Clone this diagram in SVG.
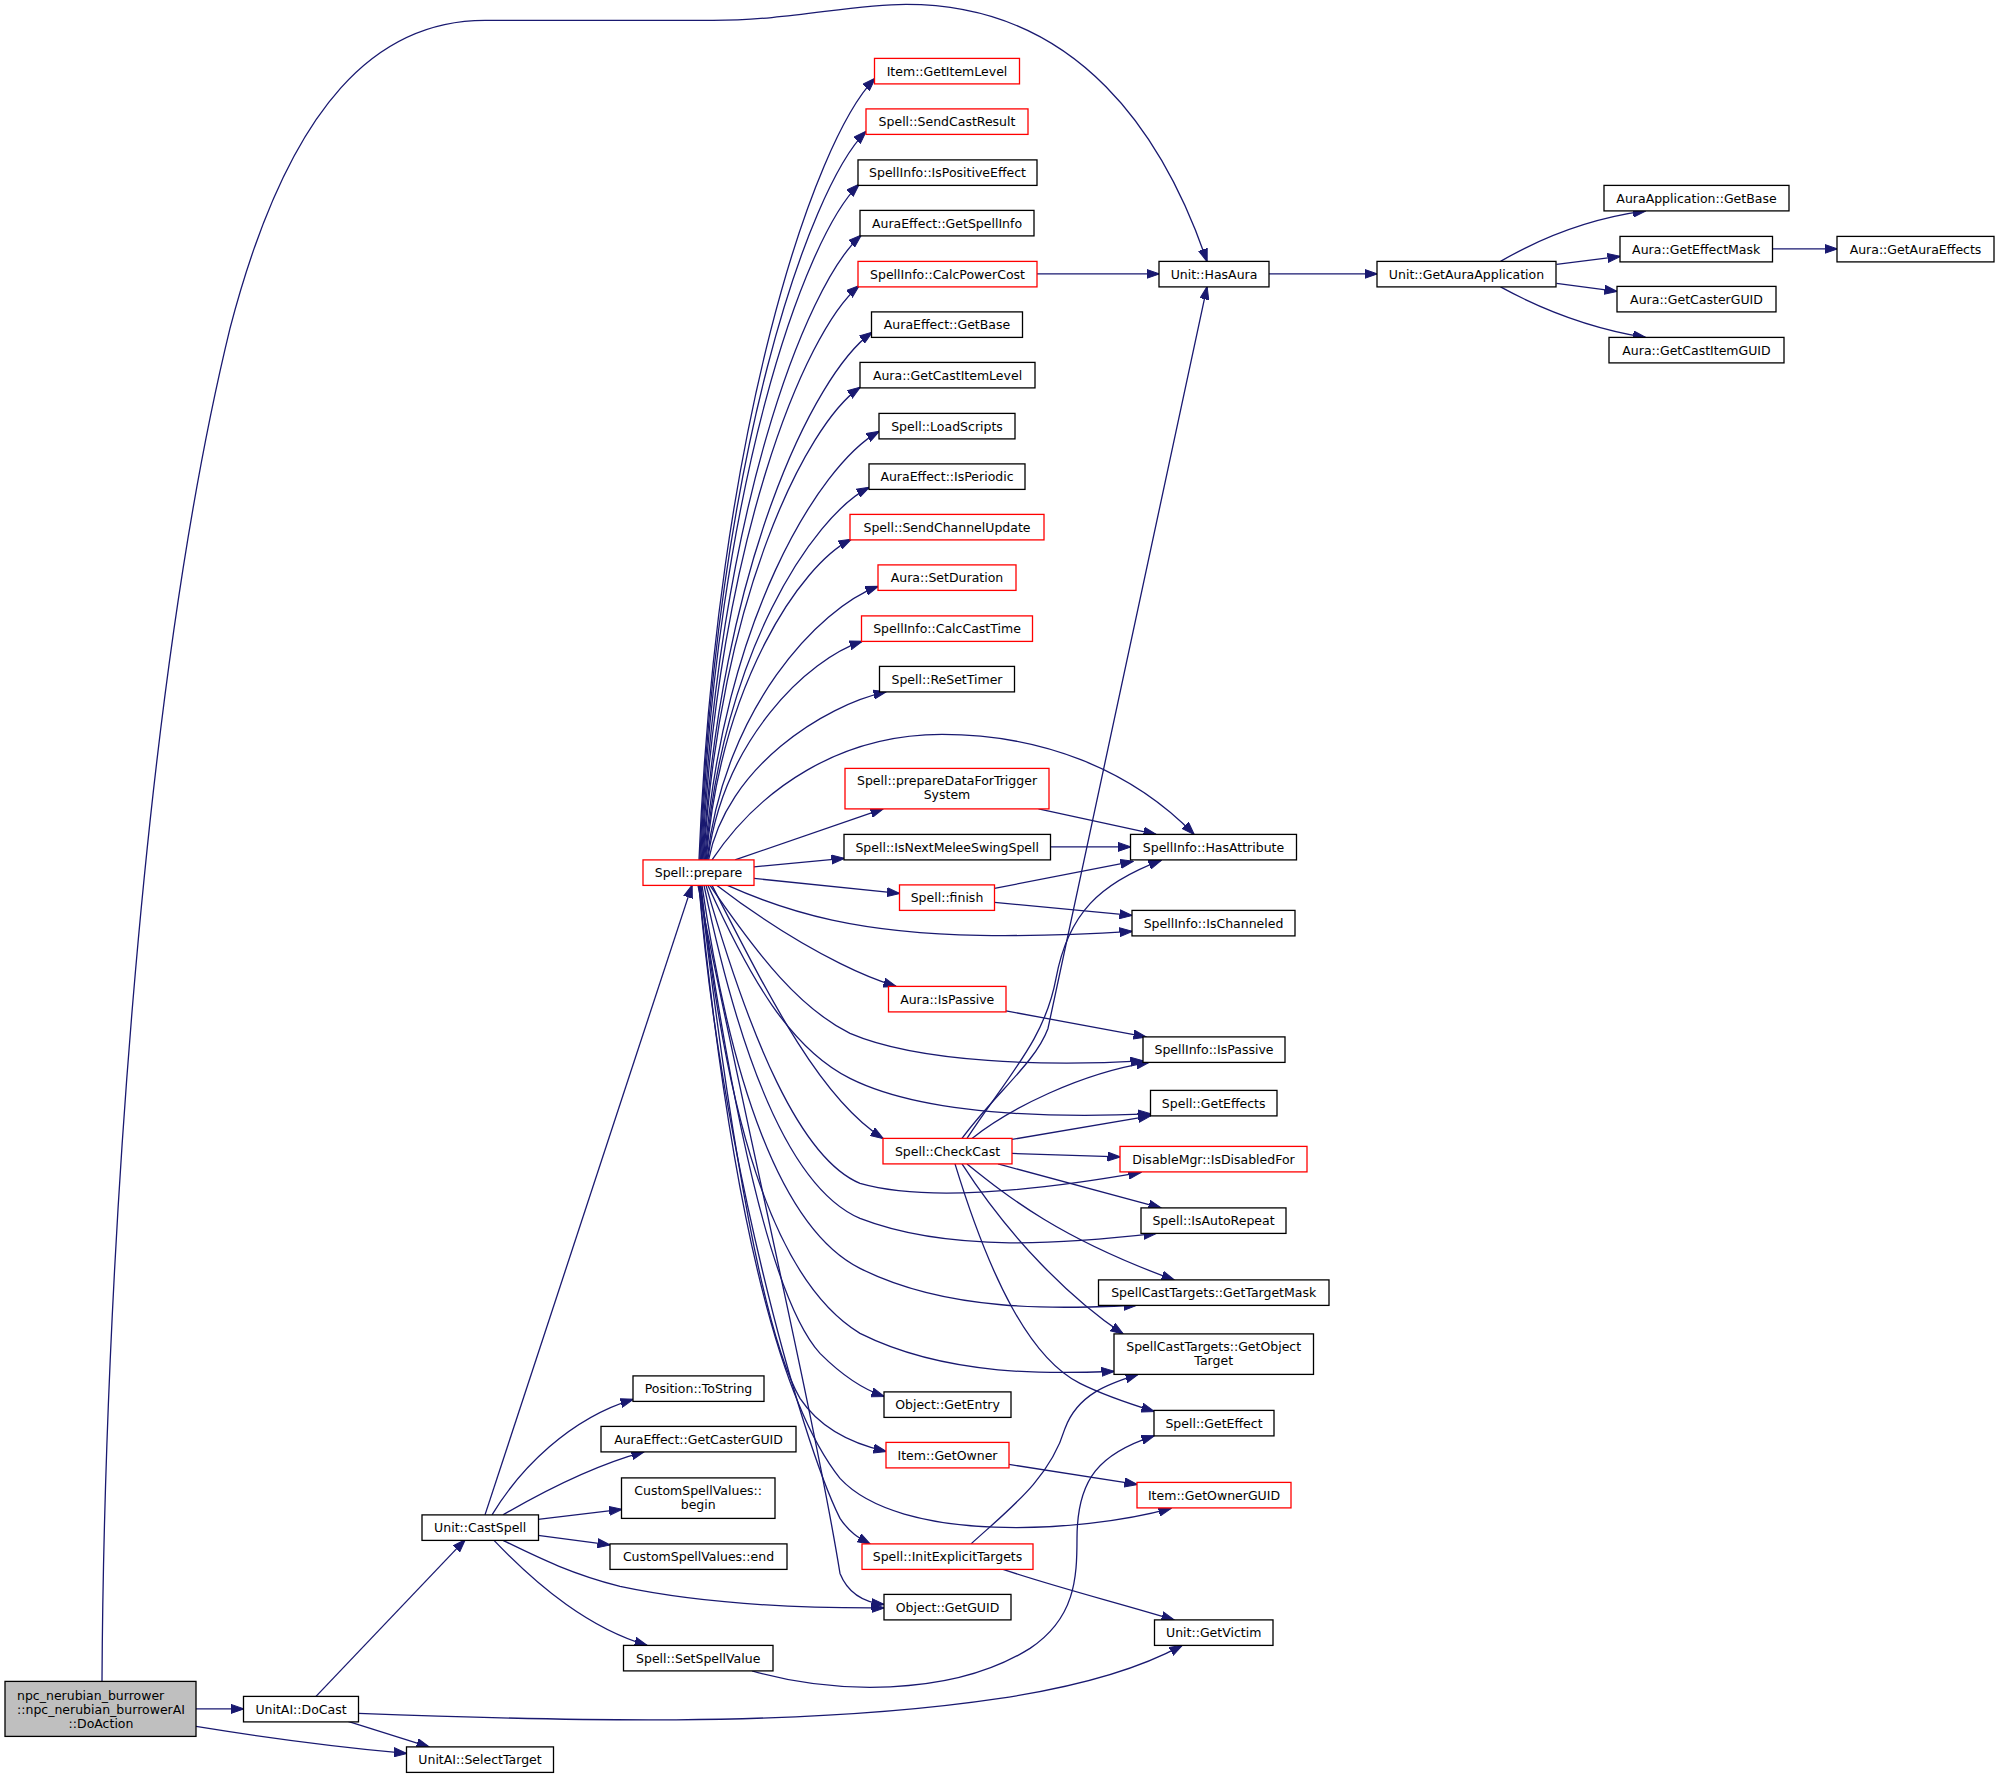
<svg xmlns="http://www.w3.org/2000/svg" width="1999" height="1780" viewBox="0 0 1999 1780">
<style>
.n rect{fill:#fff;stroke:#000;stroke-width:1.3}
.n.r rect{stroke:#f00}
.n.g rect{fill:#bfbfbf}
text{font-family:"DejaVu Sans","Liberation Sans",sans-serif;font-size:12.5px;text-anchor:middle;fill:#000}
.e path{fill:none;stroke:#191970;stroke-width:1.3;marker-end:url(#a)}
</style>
<defs>
<marker id="a" viewBox="0 0 13 10" refX="12.5" refY="5" markerWidth="13" markerHeight="10" markerUnits="userSpaceOnUse" orient="auto">
<path d="M0,0.5 L13,5 L0,9.5 Z" fill="#191970" stroke="#191970" stroke-width="1"/>
</marker>
</defs>
<rect width="1999" height="1780" fill="#fff"/>
<g transform="translate(0,-1.6)">
<g id="edges" class="e">
<path d="M102,1683 C104,1300 140,700 230,330 C290,100 380,22 485,22 L713,22 C790,22 850,6 906,6 C1080,6 1165,140 1207,263"/>
<path d="M196,1710.5 L243.5,1710.5"/>
<path d="M196,1728 C270,1740 340,1749 406.5,1755"/>
<path d="M348,1723 L429,1748.5"/>
<path d="M316,1698 L465,1541.5"/>
<path d="M358.5,1715 C550,1722 800,1730 1000,1700 C1080,1688 1140,1670 1182,1647"/>
<path d="M485,1516.5 L692,887"/>
<path d="M492,1516.5 C520,1470 570,1420 633,1401"/>
<path d="M503,1516.5 C540,1495 590,1468 644,1453.5"/>
<path d="M538,1521 L621.5,1511"/>
<path d="M538,1537 L610,1546.5"/>
<path d="M503,1542 C540,1560 570,1575 620,1588 C700,1605 800,1610 884,1609.5"/>
<path d="M494,1542 C540,1590 590,1630 647,1647"/>
<path d="M752,1672.5 C830,1695 950,1700 1030,1650 C1075,1620 1077,1580 1077,1540 C1077,1480 1100,1455 1154,1437.5"/>
<path d="M971,1545.5 C1010,1510 1050,1480 1065,1430 C1078,1395 1110,1385 1138,1376"/>
<path d="M1003,1571 C1060,1590 1120,1605 1174,1621.5"/>
<path d="M1009,1466 L1137,1486"/>
<path d="M962,1140 C995,1095 1035,1065 1048,1030 L1207,288.5"/>
<path d="M967,1140 C1010,1075 1045,1040 1056,980 C1068,915 1100,885 1161,862"/>
<path d="M972,1140 C1010,1110 1080,1075 1149,1064"/>
<path d="M1012,1141 L1150.5,1117.5"/>
<path d="M1012,1155 L1120,1158.5"/>
<path d="M998,1165.5 L1161,1209.5"/>
<path d="M967,1165.5 C1010,1200 1060,1240 1174,1281.5"/>
<path d="M962,1165.5 C1010,1240 1070,1300 1123,1335.5"/>
<path d="M955,1165.5 C990,1280 1030,1360 1080,1385 C1100,1395 1125,1404 1154,1413"/>
<path d="M1037,275.5 L1159,275.5"/>
<path d="M1269,275.5 L1377,275.5"/>
<path d="M1500.5,263 C1540,240 1590,220 1645.5,212.5"/>
<path d="M1556.5,266 L1620,258"/>
<path d="M1556.5,285 L1617,293"/>
<path d="M1500.5,288.5 C1540,310 1590,330 1645.5,339"/>
<path d="M1772.5,250.5 L1837,250.5"/>
<path d="M699,861.5 C716.6,431.7 813.4,142.5 875,80"/>
<path d="M699.8,861.5 C716.4,460.8 807.8,191.3 866,133"/>
<path d="M700.6,861.5 C716.4,490 803.6,240 859,186"/>
<path d="M701.4,861.5 C717.4,518 805.1,287 861,237"/>
<path d="M702.2,861.5 C717.9,545.8 804.1,333.4 859,287.5"/>
<path d="M703,861.5 C719.9,571.4 812.8,376.2 872,334"/>
<path d="M703.8,861.5 C719.4,601.6 805.3,426.8 860,389"/>
<path d="M704.6,861.5 C722,625.8 818,467.3 879,433"/>
<path d="M705.4,861.5 C721.8,656.6 811.7,518.8 869,489"/>
<path d="M706.2,861.5 C720.7,685.2 800.3,566.6 851,541"/>
<path d="M707,861.5 C724.1,711 818.1,609.9 878,588"/>
<path d="M707.8,861.5 C723.2,741.3 808,660.5 862,643"/>
<path d="M708.6,861.5 C726.3,769.1 823.9,706.9 886,693.5"/>
<path d="M712,861.5 C760,790 840,736 942,736 C1040,736 1130,770 1194,836"/>
<path d="M735,861.5 L883,810.5"/>
<path d="M754,868.5 L844,860"/>
<path d="M754,880 L899.5,895"/>
<path d="M994.5,890 L1133,863"/>
<path d="M1038.5,810.5 L1156,836"/>
<path d="M1050.5,848.5 L1130.5,848.5"/>
<path d="M994.5,904 L1132,917"/>
<path d="M727.5,887 C790,915 860,935 980,937 C1050,938 1100,935 1132,933"/>
<path d="M717,887 C760,920 800,945 840,965 C860,975 880,983 896,988"/>
<path d="M1006,1012.5 L1146,1038.5"/>
<path d="M710,887 C760,960 800,1010 850,1035 C920,1065 1050,1068 1143,1062.5"/>
<path d="M708,887 C750,980 790,1050 850,1080 C920,1115 1040,1120 1150.5,1115.5"/>
<path d="M712,887 C770,1000 820,1100 883,1140"/>
<path d="M706,887 C750,1040 800,1160 860,1185 C930,1205 1050,1190 1141,1174"/>
<path d="M704,887 C740,1060 790,1190 860,1220 C950,1255 1070,1245 1156,1235"/>
<path d="M702,887 C730,1080 780,1230 860,1270 C950,1315 1060,1310 1136,1307"/>
<path d="M701,887 C725,1110 770,1280 860,1335 C950,1380 1060,1375 1114,1373"/>
<path d="M700,887 C730,1100 770,1300 820,1355 C840,1375 860,1390 884,1398"/>
<path d="M700,887 C725,1100 760,1330 800,1400 C820,1430 850,1445 886,1453"/>
<path d="M699,887 C720,1100 760,1380 840,1480 C900,1545 1080,1535 1171,1510"/>
<path d="M699,887 C720,1150 800,1440 840,1520 C850,1535 860,1540 870,1545.5"/>
<path d="M698,887 C740,1100 815,1420 840,1575 C848,1595 865,1604 884,1606"/>
</g>
<g id="n_npc" class="n g"><rect x="5" y="1683" width="191" height="55"/><text x="17" y="1701.5" style="text-anchor:start">npc_nerubian_burrower</text><text x="101" y="1715.5">::npc_nerubian_burrowerAI</text><text x="101" y="1729.5">::DoAction</text></g>
<g id="n_docast" class="n"><rect x="243.5" y="1698" width="115" height="25.5"/><text x="301" y="1715.5">UnitAI::DoCast</text></g>
<g id="n_selecttarget" class="n"><rect x="406.5" y="1748.5" width="147" height="25.5"/><text x="480" y="1766">UnitAI::SelectTarget</text></g>
<g id="n_castspell" class="n"><rect x="422" y="1516.5" width="116.5" height="25.5"/><text x="480.2" y="1534">Unit::CastSpell</text></g>
<g id="n_hasaura" class="n"><rect x="1159" y="263" width="110" height="25.5"/><text x="1214" y="280.5">Unit::HasAura</text></g>
<g id="n_getauraapp" class="n"><rect x="1377" y="263" width="179" height="25.5"/><text x="1466.5" y="280.5">Unit::GetAuraApplication</text></g>
<g id="n_aagetbase" class="n"><rect x="1604" y="187" width="185" height="25.5"/><text x="1696.5" y="204.5">AuraApplication::GetBase</text></g>
<g id="n_geteffectmask" class="n"><rect x="1620" y="238" width="152.5" height="25.5"/><text x="1696.2" y="255.5">Aura::GetEffectMask</text></g>
<g id="n_getauraeffects" class="n"><rect x="1837" y="238" width="157" height="25.5"/><text x="1915.5" y="255.5">Aura::GetAuraEffects</text></g>
<g id="n_getcasterguid" class="n"><rect x="1617" y="288" width="159" height="25.5"/><text x="1696.5" y="305.5">Aura::GetCasterGUID</text></g>
<g id="n_getcastitemguid" class="n"><rect x="1609" y="339" width="175" height="25.5"/><text x="1696.5" y="356.5">Aura::GetCastItemGUID</text></g>
<g id="n_getitemlevel" class="n r"><rect x="874.5" y="60" width="145" height="25.5"/><text x="947" y="77.5">Item::GetItemLevel</text></g>
<g id="n_sendcastresult" class="n r"><rect x="866" y="110.5" width="162" height="25.5"/><text x="947" y="128">Spell::SendCastResult</text></g>
<g id="n_ispositiveeffect" class="n"><rect x="858" y="161.5" width="179" height="25.5"/><text x="947.5" y="179">SpellInfo::IsPositiveEffect</text></g>
<g id="n_getspellinfo" class="n"><rect x="860" y="212" width="174" height="25.5"/><text x="947" y="229.5">AuraEffect::GetSpellInfo</text></g>
<g id="n_calcpowercost" class="n r"><rect x="858" y="263" width="179" height="25.5"/><text x="947.5" y="280.5">SpellInfo::CalcPowerCost</text></g>
<g id="n_aegetbase" class="n"><rect x="871.5" y="313.5" width="151" height="25.5"/><text x="947" y="331">AuraEffect::GetBase</text></g>
<g id="n_getcastitemlevel" class="n"><rect x="860" y="364" width="175" height="25.5"/><text x="947.5" y="381.5">Aura::GetCastItemLevel</text></g>
<g id="n_loadscripts" class="n"><rect x="879" y="415" width="136" height="25.5"/><text x="947" y="432.5">Spell::LoadScripts</text></g>
<g id="n_isperiodic" class="n"><rect x="869" y="465.5" width="156" height="25.5"/><text x="947" y="483">AuraEffect::IsPeriodic</text></g>
<g id="n_sendchannelupdate" class="n r"><rect x="850" y="516" width="194" height="25.5"/><text x="947" y="533.5">Spell::SendChannelUpdate</text></g>
<g id="n_setduration" class="n r"><rect x="878" y="566.5" width="138" height="25.5"/><text x="947" y="584">Aura::SetDuration</text></g>
<g id="n_calccasttime" class="n r"><rect x="861.5" y="617.5" width="171" height="25.5"/><text x="947" y="635">SpellInfo::CalcCastTime</text></g>
<g id="n_resettimer" class="n"><rect x="879.5" y="668" width="135" height="25.5"/><text x="947" y="685.5">Spell::ReSetTimer</text></g>
<g id="n_preparedata" class="n r"><rect x="845" y="770" width="204" height="40.5"/><text x="947" y="786.5">Spell::prepareDataForTrigger</text><text x="947" y="800.7">System</text></g>
<g id="n_isnextmelee" class="n"><rect x="844" y="836" width="206.5" height="25.5"/><text x="947.2" y="853.5">Spell::IsNextMeleeSwingSpell</text></g>
<g id="n_prepare" class="n r"><rect x="643" y="861.5" width="111" height="25.5"/><text x="698.5" y="879">Spell::prepare</text></g>
<g id="n_finish" class="n r"><rect x="899.5" y="886.5" width="95" height="25.5"/><text x="947" y="904">Spell::finish</text></g>
<g id="n_aurapassive" class="n r"><rect x="888.5" y="988" width="117.5" height="25.5"/><text x="947.2" y="1005.5">Aura::IsPassive</text></g>
<g id="n_checkcast" class="n r"><rect x="883" y="1140" width="129" height="25.5"/><text x="947.5" y="1157.5">Spell::CheckCast</text></g>
<g id="n_getentry" class="n"><rect x="884" y="1393.5" width="127" height="25.5"/><text x="947.5" y="1411">Object::GetEntry</text></g>
<g id="n_getowner" class="n r"><rect x="886" y="1444" width="123" height="25.5"/><text x="947.5" y="1461.5">Item::GetOwner</text></g>
<g id="n_initexplicit" class="n r"><rect x="862" y="1545.5" width="171" height="25.5"/><text x="947.5" y="1563">Spell::InitExplicitTargets</text></g>
<g id="n_getguid" class="n"><rect x="884" y="1596" width="127" height="25.5"/><text x="947.5" y="1613.5">Object::GetGUID</text></g>
<g id="n_hasattribute" class="n"><rect x="1130.5" y="836" width="166" height="25.5"/><text x="1213.5" y="853.5">SpellInfo::HasAttribute</text></g>
<g id="n_ischanneled" class="n"><rect x="1132" y="912" width="163" height="25.5"/><text x="1213.5" y="929.5">SpellInfo::IsChanneled</text></g>
<g id="n_sipassive" class="n"><rect x="1143" y="1038.5" width="142" height="25.5"/><text x="1214" y="1056">SpellInfo::IsPassive</text></g>
<g id="n_geteffects" class="n"><rect x="1150.5" y="1092" width="126.5" height="25.5"/><text x="1213.7" y="1109.5">Spell::GetEffects</text></g>
<g id="n_isdisabled" class="n r"><rect x="1120" y="1148" width="187" height="25.5"/><text x="1213.5" y="1165.5">DisableMgr::IsDisabledFor</text></g>
<g id="n_isautorepeat" class="n"><rect x="1141" y="1209.5" width="145" height="25.5"/><text x="1213.5" y="1227">Spell::IsAutoRepeat</text></g>
<g id="n_gettargetmask" class="n"><rect x="1098.5" y="1281.5" width="230.5" height="25.5"/><text x="1213.7" y="1299">SpellCastTargets::GetTargetMask</text></g>
<g id="n_getobjecttarget" class="n"><rect x="1114" y="1335.5" width="199.5" height="40.5"/><text x="1213.7" y="1352.5">SpellCastTargets::GetObject</text><text x="1213.7" y="1366.7">Target</text></g>
<g id="n_geteffect" class="n"><rect x="1154" y="1412" width="120" height="25.5"/><text x="1214" y="1429.5">Spell::GetEffect</text></g>
<g id="n_getownerguid" class="n r"><rect x="1137" y="1484" width="154" height="25.5"/><text x="1214" y="1501.5">Item::GetOwnerGUID</text></g>
<g id="n_getvictim" class="n"><rect x="1154.5" y="1621.5" width="118.5" height="25.5"/><text x="1213.7" y="1639">Unit::GetVictim</text></g>
<g id="n_tostring" class="n"><rect x="633" y="1377.5" width="131" height="25.5"/><text x="698.5" y="1395">Position::ToString</text></g>
<g id="n_aecasterguid" class="n"><rect x="601" y="1428" width="195" height="25.5"/><text x="698.5" y="1445.5">AuraEffect::GetCasterGUID</text></g>
<g id="n_csvbegin" class="n"><rect x="621.5" y="1479.5" width="153.5" height="40.5"/><text x="698.2" y="1496.5">CustomSpellValues::</text><text x="698.2" y="1510.7">begin</text></g>
<g id="n_csvend" class="n"><rect x="610" y="1545.5" width="177" height="25.5"/><text x="698.5" y="1563">CustomSpellValues::end</text></g>
<g id="n_setspellvalue" class="n"><rect x="623.5" y="1647" width="149.5" height="25.5"/><text x="698.2" y="1664.5">Spell::SetSpellValue</text></g>
</g>
</svg>
